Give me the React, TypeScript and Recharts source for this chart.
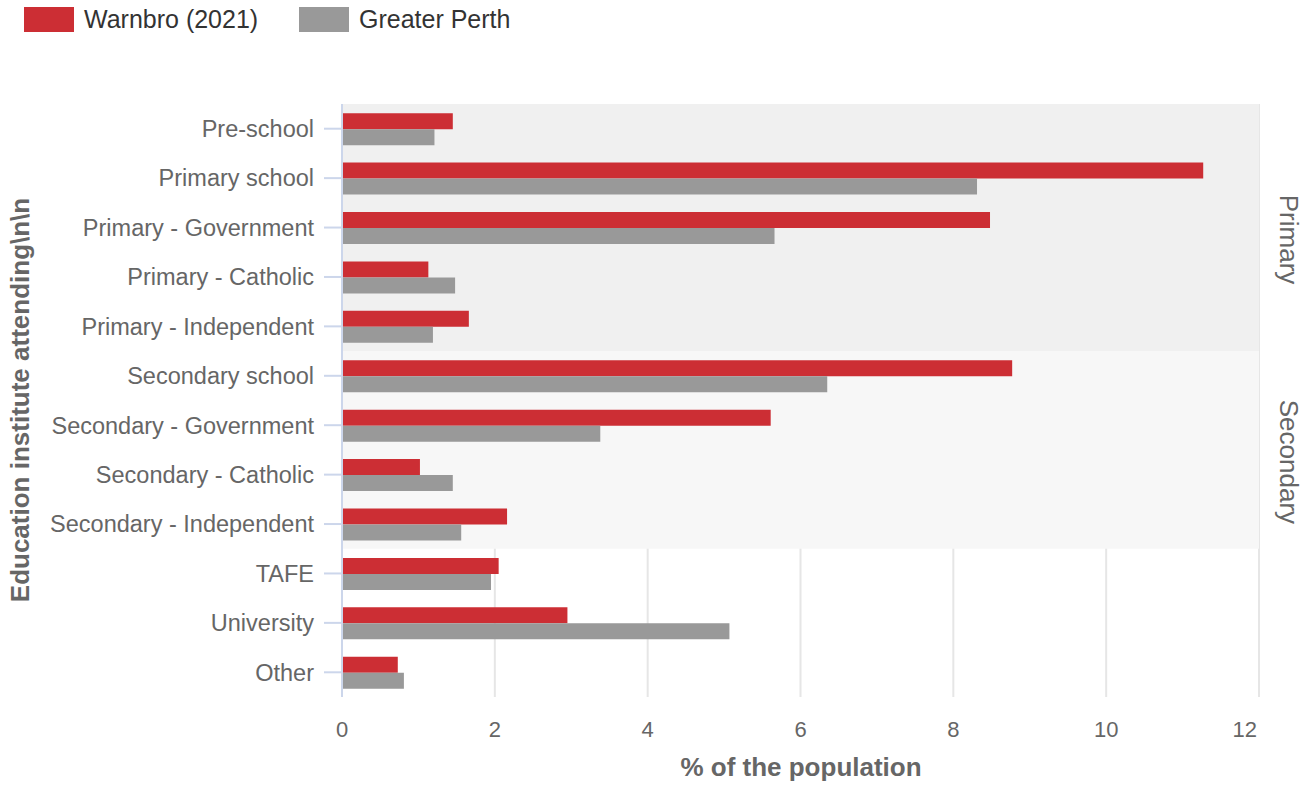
import React from 'react';
import {
  BarChart, Bar, XAxis, YAxis, CartesianGrid, ReferenceArea,
} from 'recharts';

const categories = [
  'Pre-school', 'Primary school', 'Primary - Government', 'Primary - Catholic',
  'Primary - Independent', 'Secondary school', 'Secondary - Government',
  'Secondary - Catholic', 'Secondary - Independent', 'TAFE', 'University', 'Other',
];
const warnbro = [1.45, 11.27, 8.48, 1.13, 1.66, 8.77, 5.61, 1.02, 2.16, 2.05, 2.95, 0.73];
const greaterPerth = [1.21, 8.31, 5.66, 1.48, 1.19, 6.35, 3.38, 1.45, 1.56, 1.95, 5.07, 0.81];
const xTicks = [0, 2, 4, 6, 8, 10, 12];

const bands = [
  { label: 'Primary', from: 'Pre-school', to: 'Primary - Independent', fill: '#f0f0f0' },
  { label: 'Secondary', from: 'Secondary school', to: 'Secondary - Independent', fill: '#f7f7f7' },
];

const RED = '#cc2e34';
const GREY = '#999999';
const FONT = '"Liberation Sans", Arial, Helvetica, sans-serif';

const data = categories.map((name, i) => ({ name, warnbro: warnbro[i], perth: greaterPerth[i] }));

const BandLabel = (props: any) => {
  const vb = props.viewBox || { x: 342, y: 104, width: 917, height: 248 };
  const cx = vb.x + vb.width + 21;
  const cy = vb.y + vb.height / 2 + 12;
  return (
    <text
      x={cx} y={cy}
      transform={`rotate(90 ${cx} ${cy})`}
      textAnchor="middle"
      fill="#666"
      fontSize={26}
      fontFamily={FONT}
    >
      {props.text}
    </text>
  );
};

const YTitle = () => (
  <text
    x={29} y={400}
    transform="rotate(-90 29 400)"
    textAnchor="middle"
    fill="#666"
    fontSize={26}
    fontWeight={700}
    fontFamily={FONT}
  >
    {'Education institute attending\\n\\n'}
  </text>
);

const XTitle = () => (
  <text x={801} y={776} textAnchor="middle" fill="#666" fontSize={26} fontWeight={700} fontFamily={FONT}>
    % of the population
  </text>
);

// last label is pulled inside the plot edge like the source chart does
const XTick = (props: any) => {
  const { x, y, payload } = props;
  const last = payload.value === xTicks[xTicks.length - 1];
  return (
    <text
      x={last ? x - 2 : x} y={y} dy="0.71em"
      textAnchor={last ? 'end' : 'middle'}
      fill="#666" fontSize={22} fontFamily={FONT}
    >
      {payload.value}
    </text>
  );
};

const legendItems = [
  { name: 'Warnbro (2021)', color: RED, left: 24 },
  { name: 'Greater Perth', color: GREY, left: 299 },
];

export default function App() {
  return (
    <div style={{ position: 'absolute', left: 0, top: 0, width: 1312, height: 785, background: '#fff', fontFamily: FONT }}>
      {legendItems.map((it) => (
        <div key={it.name} style={{ position: 'absolute', left: it.left, top: 7, height: 25, display: 'flex', alignItems: 'center' }}>
          <div style={{ width: 50, height: 25, background: it.color }} />
          <span style={{ marginLeft: 10, fontSize: 25, color: '#333', lineHeight: '25px', whiteSpace: 'nowrap' }}>{it.name}</span>
        </div>
      ))}
      <BarChart
        width={1312}
        height={785}
        data={data}
        layout="vertical"
        margin={{ top: 104, right: 53, bottom: 0, left: 0 }}
        barCategoryGap="18.6%"
        barGap={0}
        style={{ position: 'absolute', left: 0, top: 0 }}
      >
        {bands.map((b) => (
          <ReferenceArea
            key={b.label}
            y1={b.from}
            y2={b.to}
            fill={b.fill}
            fillOpacity={1}
            stroke="none"
            ifOverflow="visible"
            label={<BandLabel text={b.label} />}
          />
        ))}
        <CartesianGrid horizontal={false} stroke="#e6e6e6" strokeWidth={2} />
        <XAxis
          type="number"
          domain={[0, 12]}
          ticks={xTicks}
          axisLine={false}
          tickLine={false}
          tickSize={0}
          tickMargin={24}
          height={88}
          tick={<XTick />}
          label={<XTitle />}
        />
        <YAxis
          type="category"
          dataKey="name"
          width={342}
          tickSize={18}
          tickMargin={10}
          axisLine={{ stroke: '#ccd6eb', strokeWidth: 2 }}
          tickLine={{ stroke: '#ccd6eb', strokeWidth: 2 }}
          tick={{ fontSize: 23.5, fill: '#666', fontFamily: FONT }}
          interval={0}
          label={<YTitle />}
        />
        <Bar dataKey="warnbro" name="Warnbro (2021)" fill={RED} isAnimationActive={false} />
        <Bar dataKey="perth" name="Greater Perth" fill={GREY} isAnimationActive={false} />
      </BarChart>
    </div>
  );
}
